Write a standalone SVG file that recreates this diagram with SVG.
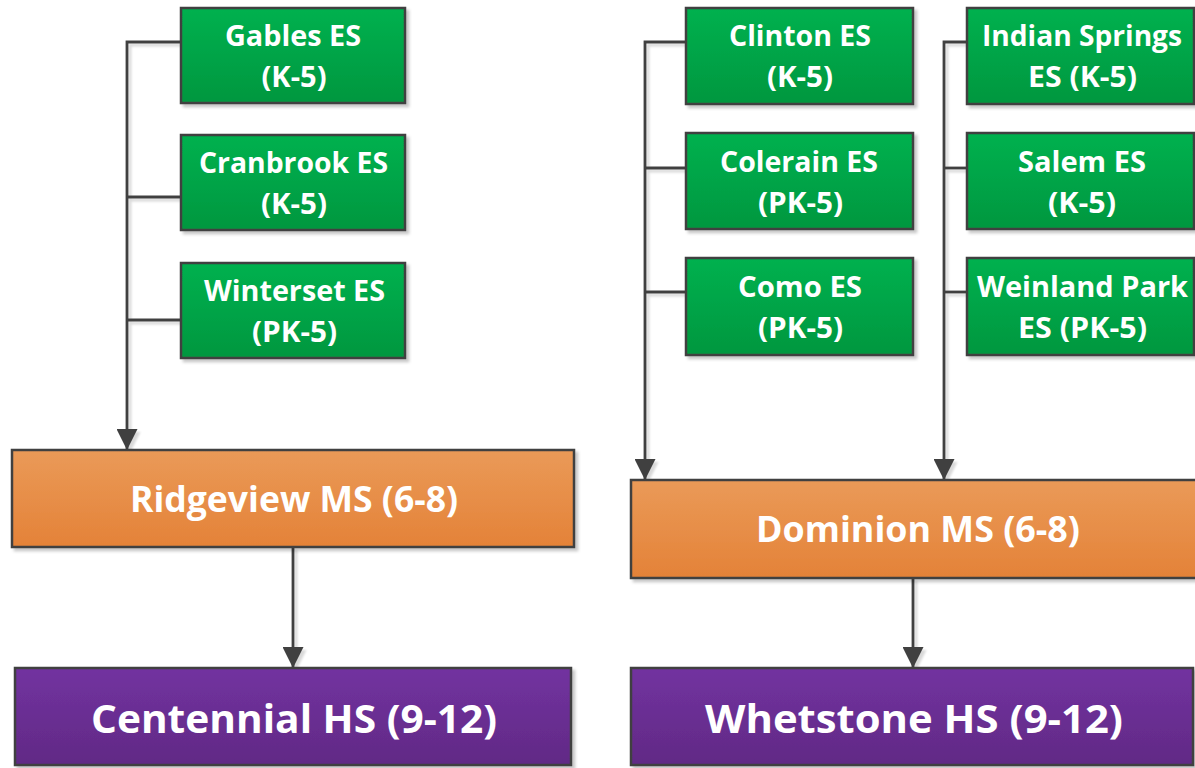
<svg xmlns="http://www.w3.org/2000/svg" width="1195" height="768" viewBox="0 0 1195 768">
<defs>
<linearGradient id="gGreen" x1="0" y1="0" x2="0" y2="1"><stop offset="0" stop-color="#02B14F"/><stop offset="1" stop-color="#06973F"/></linearGradient>
<linearGradient id="gOrange" x1="0" y1="0" x2="0" y2="1"><stop offset="0" stop-color="#EA9A58"/><stop offset="1" stop-color="#E48238"/></linearGradient>
<linearGradient id="gPurple" x1="0" y1="0" x2="0" y2="1"><stop offset="0" stop-color="#7232A0"/><stop offset="1" stop-color="#612A85"/></linearGradient>
<filter id="sh" x="-10%" y="-10%" width="130%" height="130%"><feDropShadow dx="3" dy="3" stdDeviation="1.5" flood-color="#000" flood-opacity="0.22"/></filter>
<filter id="lsh" filterUnits="userSpaceOnUse" x="0" y="0" width="1195" height="768"><feDropShadow dx="3" dy="3" stdDeviation="0.8" flood-color="#000" flood-opacity="0.15"/></filter>
<marker id="arr" viewBox="0 0 20 20" refX="20" refY="10" markerWidth="21" markerHeight="21" orient="auto" markerUnits="userSpaceOnUse"><path d="M0,0 L20,10 L0,20 Z" fill="#404040"/></marker>
<style>
.box{stroke:#404040;stroke-width:2.5;filter:url(#sh)}
.es{fill:url(#gGreen)}
.ms{fill:url(#gOrange)}
.hs{fill:url(#gPurple)}
text{font-family:"Open Sans","Liberation Sans",sans-serif;font-weight:bold;fill:#fff;text-anchor:middle}
.t1{font-size:28px}
.t2{font-size:35px}
.t3{font-size:40px}
.con{fill:none;stroke:#404040;stroke-width:2.8}
</style>
</defs>
<rect width="1195" height="768" fill="#fff"/>
<g id="connectors" filter="url(#lsh)">
<path class="con" d="M181,42 H127 V450" marker-end="url(#arr)"/>
<path class="con" d="M181,197 H127"/>
<path class="con" d="M181,320 H127"/>
<path class="con" d="M686,42 H645 V480" marker-end="url(#arr)"/>
<path class="con" d="M686,168 H645"/>
<path class="con" d="M686,292 H645"/>
<path class="con" d="M967,42 H944 V480" marker-end="url(#arr)"/>
<path class="con" d="M967,168 H944"/>
<path class="con" d="M967,292 H944"/>
<path class="con" d="M293,547 V668" marker-end="url(#arr)"/>
<path class="con" d="M913,578 V668" marker-end="url(#arr)"/>
</g>
<g id="gables">
<rect class="box es" x="181" y="8" width="224" height="95"/>
<text class="t1" x="293" y="46" textLength="136" lengthAdjust="spacingAndGlyphs">Gables ES</text>
<text class="t1" x="294" y="87" textLength="65" lengthAdjust="spacingAndGlyphs">(K-5)</text>
</g>
<g id="cranbrook">
<rect class="box es" x="181" y="135" width="224" height="95"/>
<text class="t1" x="293.5" y="173" textLength="189" lengthAdjust="spacingAndGlyphs">Cranbrook ES</text>
<text class="t1" x="294" y="214" textLength="66" lengthAdjust="spacingAndGlyphs">(K-5)</text>
</g>
<g id="winterset">
<rect class="box es" x="181" y="263" width="224" height="95"/>
<text class="t1" x="294.5" y="301" textLength="181" lengthAdjust="spacingAndGlyphs">Winterset ES</text>
<text class="t1" x="294.5" y="342" textLength="85" lengthAdjust="spacingAndGlyphs">(PK-5)</text>
</g>
<g id="clinton">
<rect class="box es" x="686" y="8" width="227" height="96"/>
<text class="t1" x="800" y="46" textLength="142" lengthAdjust="spacingAndGlyphs">Clinton ES</text>
<text class="t1" x="800" y="87" textLength="66" lengthAdjust="spacingAndGlyphs">(K-5)</text>
</g>
<g id="colerain">
<rect class="box es" x="686" y="133" width="227" height="96"/>
<text class="t1" x="799" y="172" textLength="158" lengthAdjust="spacingAndGlyphs">Colerain ES</text>
<text class="t1" x="800.5" y="213" textLength="85" lengthAdjust="spacingAndGlyphs">(PK-5)</text>
</g>
<g id="como">
<rect class="box es" x="686" y="258" width="227" height="97"/>
<text class="t1" x="800" y="297" textLength="124" lengthAdjust="spacingAndGlyphs">Como ES</text>
<text class="t1" x="800.5" y="338" textLength="85" lengthAdjust="spacingAndGlyphs">(PK-5)</text>
</g>
<g id="indian-springs">
<rect class="box es" x="967" y="8" width="227" height="96"/>
<text class="t1" x="1082" y="46" textLength="200" lengthAdjust="spacingAndGlyphs">Indian Springs</text>
<text class="t1" x="1082.5" y="87" textLength="109" lengthAdjust="spacingAndGlyphs">ES (K-5)</text>
</g>
<g id="salem">
<rect class="box es" x="967" y="133" width="227" height="96"/>
<text class="t1" x="1082" y="172" textLength="128" lengthAdjust="spacingAndGlyphs">Salem ES</text>
<text class="t1" x="1082" y="213" textLength="68" lengthAdjust="spacingAndGlyphs">(K-5)</text>
</g>
<g id="weinland-park">
<rect class="box es" x="967" y="258" width="227" height="97"/>
<text class="t1" x="1082.5" y="297" textLength="211" lengthAdjust="spacingAndGlyphs">Weinland Park</text>
<text class="t1" x="1082.5" y="338" textLength="129" lengthAdjust="spacingAndGlyphs">ES (PK-5)</text>
</g>
<g id="ridgeview">
<rect class="box ms" x="12" y="450" width="562" height="97"/>
<text class="t2" x="294" y="512" textLength="328" lengthAdjust="spacingAndGlyphs">Ridgeview MS (6-8)</text>
</g>
<g id="dominion">
<rect class="box ms" x="631" y="480" width="580" height="98"/>
<text class="t2" x="918" y="542" textLength="324" lengthAdjust="spacingAndGlyphs">Dominion MS (6-8)</text>
</g>
<g id="centennial">
<rect class="box hs" x="15" y="668" width="556" height="97"/>
<text class="t3" x="294" y="733" textLength="406" lengthAdjust="spacingAndGlyphs">Centennial HS (9-12)</text>
</g>
<g id="whetstone">
<rect class="box hs" x="631" y="668" width="562" height="97"/>
<text class="t3" x="914" y="733" textLength="418" lengthAdjust="spacingAndGlyphs">Whetstone HS (9-12)</text>
</g>
</svg>
